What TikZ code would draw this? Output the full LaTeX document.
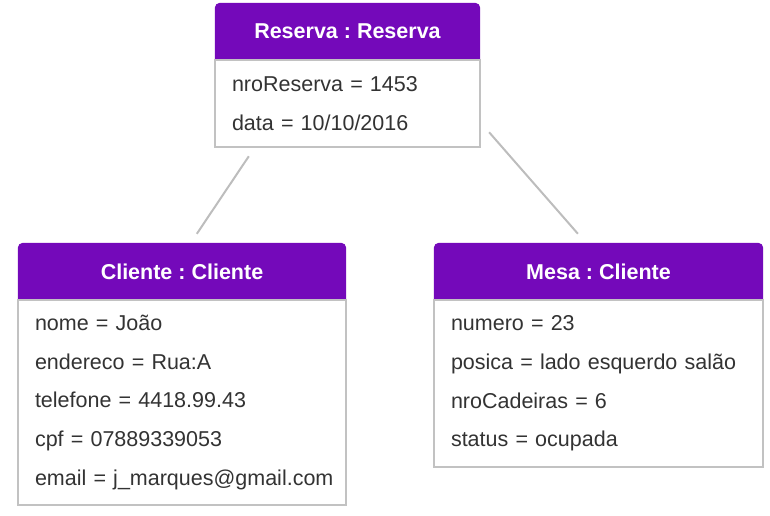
\documentclass[tikz,border=0pt]{standalone}
\usepackage{fontspec}
\setmainfont{Liberation Sans}
\usepackage{xcolor}
\usetikzlibrary{positioning, calc, backgrounds}

\definecolor{hdrpurple}{HTML}{7409BA}
\definecolor{boxgray}{HTML}{C2C2C2}
\definecolor{linkgray}{HTML}{BDBDBD}
\definecolor{txtgray}{HTML}{333333}

\frenchspacing

\begin{document}
\begin{tikzpicture}[x=1pt,y=-1pt,
        head/.style={minimum height=57pt, inner sep=0pt, text=white,
            font=\fontsize{21.5}{26}\selectfont\bfseries},
        attrs/.style={draw=boxgray, line width=2.4pt, fill=white, inner ysep=0pt,
            inner xsep=17pt, align=left, text=txtgray,
            font=\fontsize{21.5}{38.6}\selectfont},
        link/.style={draw=linkgray, line width=2pt}]

        \useasboundingbox (0,0) rectangle (770,515);

        % Object Reserva
        \node[head, minimum width=265pt] (resHead) at (347.5, 31.5) {Reserva : Reserva};
        \node[attrs, text width=231pt, minimum height=87pt] (resBody) at (347.5, 103.5)
              {nroReserva = 1453\\data = 10/10/2016};

        % Object Cliente
        \node[head, minimum width=328pt] (cliHead) at (182, 271.5) {Cliente : Cliente};
        \node[attrs, text width=294pt, minimum height=205pt] (cliBody) at (182, 402.5)
              {nome = João\\endereco = Rua:A\\telefone = 4418.99.43\\cpf = 07889339053\\\mbox{email = j\_marques@gmail.com}};

        % Object Mesa
        \node[head, minimum width=329pt] (mesaHead) at (598.5, 271.5) {Mesa : Cliente};
        \node[attrs, text width=295pt, minimum height=167pt] (mesaBody) at (598.5, 383.5)
              {numero = 23\\posica = lado esquerdo salão\\nroCadeiras = 6\\status = ocupada};

        % Purple title bars (rounded on top only)
        \begin{scope}[on background layer]
            \foreach \h in {resHead, cliHead, mesaHead}
                \fill[hdrpurple] (\h.south west) [rounded corners=5pt] -- (\h.north west)
                      -- (\h.north east) [sharp corners] -- (\h.south east) -- cycle;
        \end{scope}

        % Links
        \coordinate (resL) at ($(resBody.south west)+(40.4,0)$);
        \coordinate (cliT) at ($(cliHead.north west)+(173,0)$);
        \draw[link, shorten <=9.7pt, shorten >=10.8pt] (resL) -- (cliT);

        \coordinate (resR) at ($(resBody.south east)+(0,-25)$);
        \coordinate (mesaT) at ($(mesaHead.north west)+(152,0)$);
        \draw[link, shorten <=12pt, shorten >=12pt] (resR) -- (mesaT);

    \end{tikzpicture}
\end{document}
